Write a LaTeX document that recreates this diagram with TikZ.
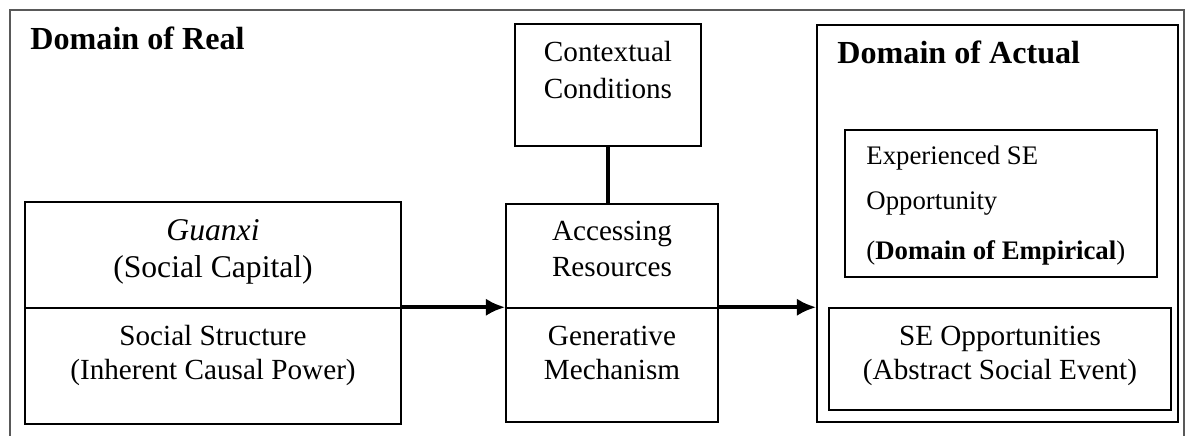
\documentclass[tikz,border=0pt]{standalone}
\usepackage{fontspec}
\setmainfont{Liberation Serif}
\usetikzlibrary{arrows.meta,fit}
\tikzset{
  >={Latex[length=8pt,width=7.2pt]},
}
\tikzstyle{box}=[draw,line width=0.6pt,inner sep=0pt]
\tikzstyle{frame}=[draw=black!65,line width=0.5pt]
\tikzstyle{link}=[line width=1.6pt]
\tikzstyle{txt}=[inner sep=0pt,anchor=base,font=\fontsize{12}{14}\selectfont]
\tikzstyle{bigtxt}=[txt,font=\fontsize{13}{15}\selectfont]
\tikzstyle{smalltxt}=[inner sep=0pt,anchor=base west,font=\fontsize{11}{13}\selectfont]
\tikzstyle{head}=[inner sep=0pt,anchor=base west,font=\fontsize{13.2}{16}\selectfont\bfseries]

\begin{document}
\begin{tikzpicture}[x=0.411pt,y=-0.411pt]
    \useasboundingbox (0,0) rectangle (1186,436);
    % outer frame, open at the bottom
    \draw[frame] (10,436) -- (10,10) -- (1184,10) -- (1184,436);
    % boxes
    \node[box,fit={(25,202) (401,308)}] (gxtop) {};
    \node[box,fit={(25,308) (401,424)}] (gxbot) {};
    \node[box,fit={(515,24) (701,146)}] (ctx) {};
    \node[box,fit={(506,204) (718,308)}] (midtop) {};
    \node[box,fit={(506,308) (718,422)}] (midbot) {};
    \node[box,fit={(817,25) (1178,422)}] (actual) {};
    \node[box,fit={(845,130) (1157,277)}] (exp) {};
    \node[box,fit={(829,308) (1171,410)}] (seo) {};
    % labels
    \node[head] (real) at (30,50) {Domain of Real};
    \node[head] (act) at (837,64) {Domain of Actual};
    \node[txt] (ctx1) at (608,62) {Contextual};
    \node[txt] (ctx2) at (608,99) {Conditions};
    \node[bigtxt] (gx1) at (213,241) {\textit{Guanxi}};
    \node[bigtxt] (gx2) at (213,278) {(Social Capital)};
    \node[txt] (ss1) at (213,346) {Social Structure};
    \node[txt] (ss2) at (213,380) {(Inherent Causal Power)};
    \node[txt] (ar1) at (612,241) {Accessing};
    \node[txt] (ar2) at (612,277) {Resources};
    \node[txt] (gm1) at (612,346) {Generative};
    \node[txt] (gm2) at (612,380) {Mechanism};
    \node[smalltxt] (ex1) at (866,165) {Experienced SE};
    \node[smalltxt] (ex2) at (866,210) {Opportunity};
    \node[smalltxt] (ex3) at (866,260) {(\textbf{Domain of Empirical})};
    \node[txt] (se1) at (1000,346) {SE Opportunities};
    \node[txt] (se2) at (1000,380) {(Abstract Social Event)};
    % connectors
    \draw[link] (ctx.south) -- (ctx.south |- midtop.north);
    \draw[link,->] (gxbot.north east) -- (midbot.north west);
    \draw[link,->] (midbot.north east) -- (midbot.north east -| actual.west);
\end{tikzpicture}
\end{document}
